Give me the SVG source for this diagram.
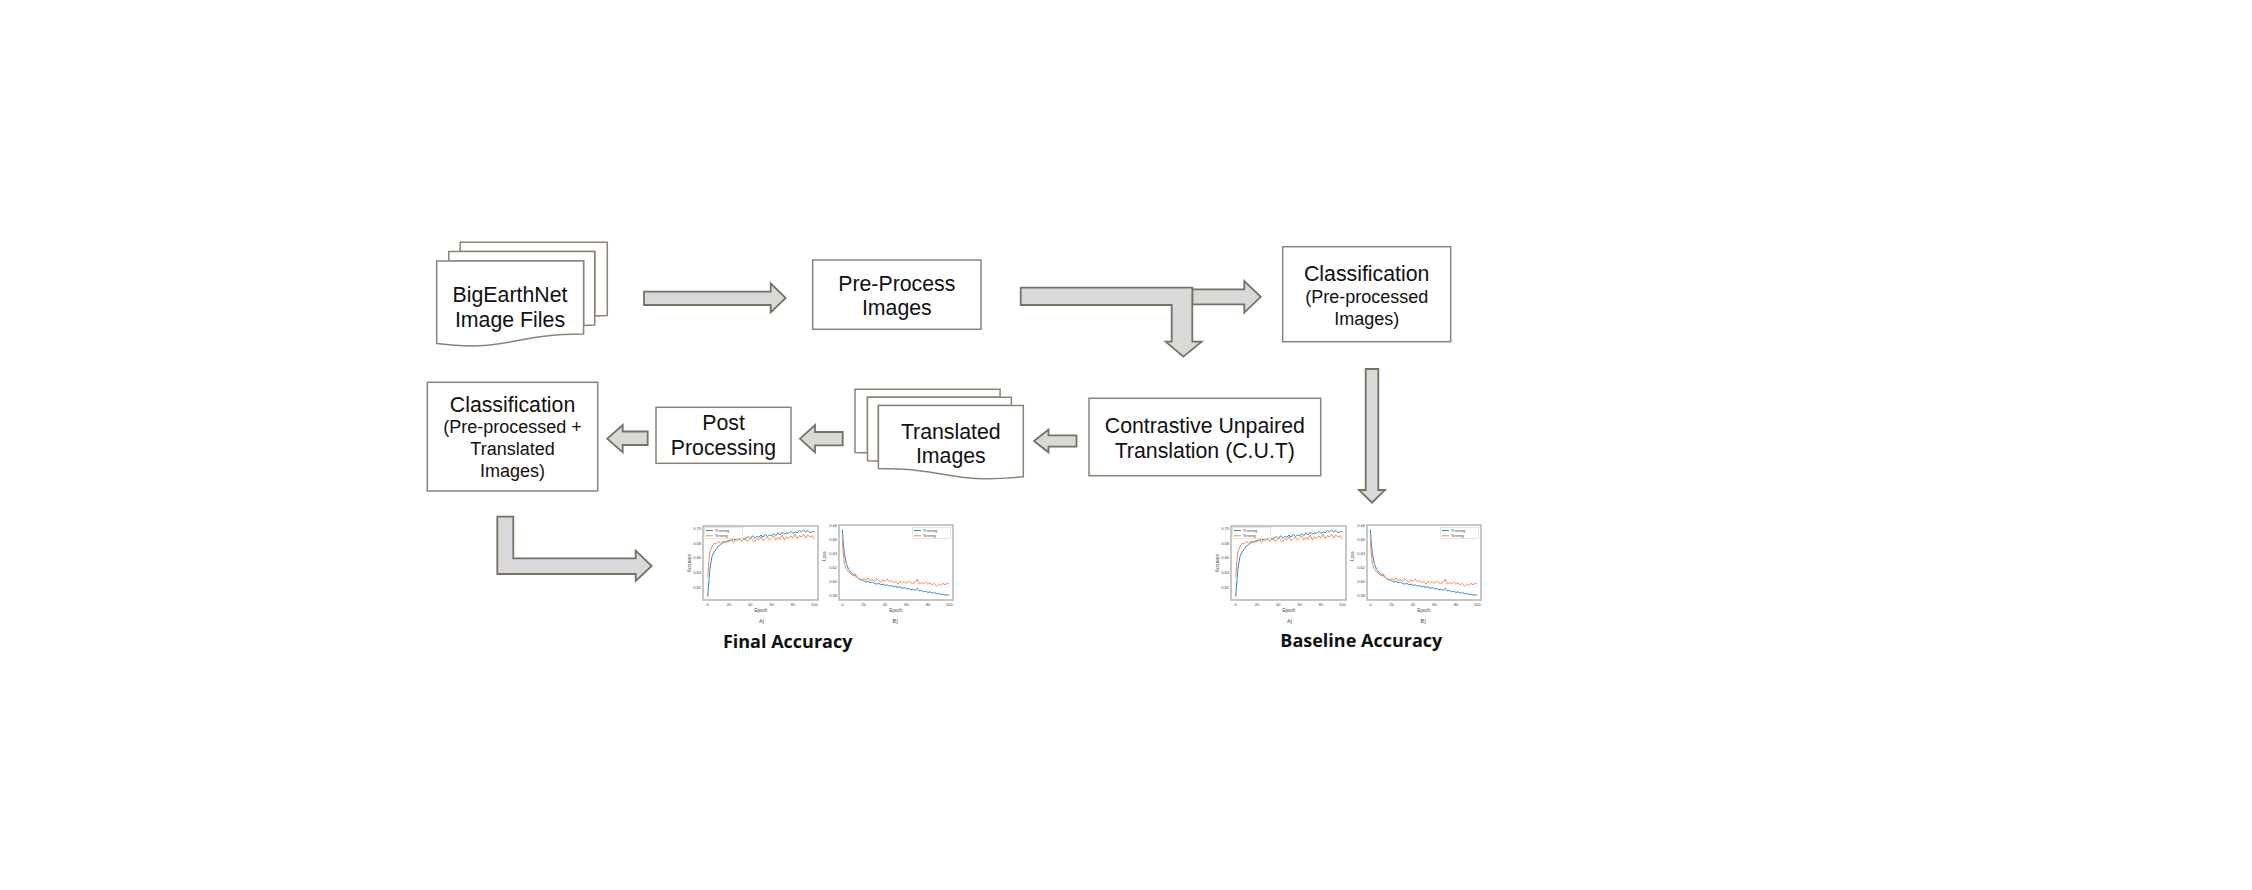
<svg xmlns="http://www.w3.org/2000/svg" xmlns:xlink="http://www.w3.org/1999/xlink" width="2252" height="890" viewBox="0 0 2252 890">
<style>
.box{fill:#fff;stroke:#8c8273;stroke-width:1.5}
.arrow{fill:#d9d9d9;stroke:#7a7061;stroke-width:1.8;stroke-linejoin:miter}
.t{font-family:"Liberation Sans",Arial,sans-serif;font-size:21.3px;fill:#111;text-anchor:middle}
.ts{font-size:18px}
.cap{font-family:"Open Sans","Liberation Sans",sans-serif;font-weight:700;font-size:18px;fill:#111;text-anchor:middle}
.tick{font-family:"Liberation Sans",Arial,sans-serif;font-size:4px;fill:#444}
.frame{fill:#fff;stroke:#aaa;stroke-width:1.3}
.tr{fill:none;stroke:#2b8cd0;stroke-width:1;vector-effect:non-scaling-stroke}
.te{fill:none;stroke:#ff8a45;stroke-width:1;vector-effect:non-scaling-stroke}
</style>
<defs>
<g id="charts">
 <g id="chartA">
  <rect class="frame" x="703" y="526" width="115" height="74"/>
  <g transform="translate(707.7,0) scale(1.066,1)">
   <polyline class="tr" points="0,596.6 2,569.1 4,556.5 6,552.1 8,549.1 10,546.1 12,544.6 14,543.2 16,541.7 18,542.4 20,540.2 22,540.9 24,538.7 26,540.2 28,538 30,539.4 32,537.2 34,539.4 36,538 38,536.5 40,538.7 42,535.7 44,538 46,536.5 48,537.2 50,535 52,537.2 54,534.2 56,536.5 58,535 60,535.7 62,533.5 64,535.7 66,532.8 68,535 70,532 72,534.2 74,532.8 76,533.5 78,531.3 80,533.5 82,532 84,532.8 86,530.5 88,532 90,529.8 92,532 94,530.5 96,532.8 98,531.3 100,532"/>
   <polyline class="te" points="0,577.3 1,561.7 2,552.1 4,546.9 6,543.2 8,543.9 10,541.7 12,543.2 14,540.9 16,542.4 18,540.2 20,541.7 22,539.4 24,542.4 26,539.4 28,540.9 30,538 32,541.7 34,538.7 36,540.2 38,540.9 40,538 42,540.2 44,541.7 46,538.7 48,540.2 50,536.5 52,540.9 54,538.7 56,537.2 58,540.2 60,538 62,535.7 64,540.2 66,537.2 68,539.4 70,535 72,540.2 74,536.5 76,538.7 78,535.7 80,538 82,534.2 84,538.7 86,535.7 88,537.2 90,534.2 92,538 94,535 96,537.2 98,535.7 100,539.4"/>
  </g>
  <g class="tick" text-anchor="end">
   <text x="701" y="529.7">0.70</text><text x="701" y="544.5">0.68</text><text x="701" y="559.4">0.66</text><text x="701" y="574.3">0.64</text><text x="701" y="589.1">0.62</text>
  </g>
  <g class="tick" text-anchor="middle">
   <text x="707.7" y="606">0</text><text x="729" y="606">20</text><text x="750.3" y="606">40</text><text x="771.7" y="606">60</text><text x="793" y="606">80</text><text x="814.3" y="606">100</text>
   <text x="761" y="611.5" font-size="4.5">Epoch</text>
   <text x="761.7" y="622.5" font-size="5.5">A)</text>
   <text transform="translate(691,563) rotate(-90)" font-size="4.5">Accuracy</text>
  </g>
  <rect x="704.5" y="527.5" width="38" height="11" fill="#fff" stroke="#ccc" stroke-width="0.5"/>
  <line x1="706" y1="530.5" x2="713" y2="530.5" stroke="#2b8cd0" stroke-width="1"/>
  <line x1="706" y1="535.8" x2="713" y2="535.8" stroke="#ff8a45" stroke-width="1"/>
  <text class="tick" x="715" y="532">Training</text>
  <text class="tick" x="715" y="537.3">Testing</text>
 </g>
 <g id="chartB">
  <rect class="frame" x="839" y="525" width="114" height="75"/>
  <g transform="translate(842.3,0) scale(1.07,1)">
   <polyline class="tr" points="0,529.5 1,543.5 2,554 4,564.5 6,569.4 8,572.2 10,574.3 12,575.7 14,577.1 16,579.2 18,579.9 20,580.6 22,582 24,581.3 26,582.7 28,582 30,583.4 32,584.1 34,583.4 36,584.8 38,584.1 40,585.5 42,584.8 44,586.2 46,585.5 48,586.9 50,586.2 52,587.6 54,586.9 56,588.3 58,587.6 60,589 62,588.3 64,589.7 66,589 68,590.4 70,588.3 72,591.1 74,590.4 76,591.8 78,591.1 80,592.5 82,591.8 84,593.2 86,592.5 88,593.9 90,593.2 92,594.6 94,593.9 96,595.3 98,594.6 100,595.3"/>
   <polyline class="te" points="0,538.6 1,554 2,564.5 4,569.4 6,572.2 8,573.6 10,575.7 12,573.6 14,577.8 16,578.5 18,579.9 20,578.5 22,579.9 24,577.8 26,580.6 28,579.2 30,581.3 32,578.5 34,580.6 36,582 38,579.9 40,581.3 42,579.2 44,582 46,580.6 48,582.7 50,581.3 52,584.1 54,581.3 56,582.7 58,582 60,583.4 62,581.3 64,582.7 66,583.4 68,582 70,579.2 72,584.1 74,582.7 76,583.4 78,582 80,584.1 82,582.7 84,584.8 86,583.4 88,586.2 90,584.1 92,585.5 94,583.4 96,584.8 98,583.4 100,584.1"/>
  </g>
  <g class="tick" text-anchor="end">
   <text x="837" y="527.4">0.68</text><text x="837" y="541.4">0.66</text><text x="837" y="555.4">0.64</text><text x="837" y="569.4">0.62</text><text x="837" y="583.4">0.60</text><text x="837" y="597.4">0.58</text>
  </g>
  <g class="tick" text-anchor="middle">
   <text x="842.3" y="606">0</text><text x="863.7" y="606">20</text><text x="885.1" y="606">40</text><text x="906.5" y="606">60</text><text x="927.9" y="606">80</text><text x="949.3" y="606">100</text>
   <text x="895.7" y="611.5" font-size="4.5">Epoch</text>
   <text x="895.3" y="622.5" font-size="5.5">B)</text>
   <text transform="translate(826,556) rotate(-90)" font-size="4.5">Loss</text>
  </g>
  <rect x="912.5" y="527.5" width="38" height="11" fill="#fff" stroke="#ccc" stroke-width="0.5"/>
  <line x1="914" y1="530.5" x2="921" y2="530.5" stroke="#2b8cd0" stroke-width="1"/>
  <line x1="914" y1="535.8" x2="921" y2="535.8" stroke="#ff8a45" stroke-width="1"/>
  <text class="tick" x="923" y="532">Training</text>
  <text class="tick" x="923" y="537.3">Testing</text>
 </g>
</g>
</defs>

<rect width="2252" height="890" fill="#fff"/>

<g id="connectors">
 <polygon class="arrow" points="644,291.7 770.7,291.7 770.7,283.3 785.7,298 770.7,312.3 770.7,305 644,305"/>
 <polygon class="arrow" points="1192.3,289.3 1244.3,289.3 1244.3,281 1260.7,296.8 1244.3,312.7 1244.3,304.3 1192.3,304.3"/>
 <polygon class="arrow" points="1020.7,287.7 1192.3,287.7 1192.3,341.7 1201.7,341.7 1183.3,356.7 1165.7,341.7 1171.7,341.7 1171.7,305 1020.7,305"/>
 <polygon class="arrow" points="1365.7,369 1378.3,369 1378.3,490 1385,490 1372,502.7 1359,490 1365.7,490"/>
 <polygon class="arrow" points="1076.5,435.3 1048.5,435.3 1048.5,429.5 1034,441 1048.5,452.3 1048.5,446.7 1076.5,446.7"/>
 <polygon class="arrow" points="842.7,432 815,432 815,425 800,438.7 815,452.3 815,445.3 842.7,445.3"/>
 <polygon class="arrow" points="647.7,431.5 622.7,431.5 622.7,425 607.3,438.7 622.7,452.3 622.7,445 647.7,445"/>
 <polygon class="arrow" points="497.3,516.7 513.3,516.7 513.3,558.3 635.7,558.3 635.7,550.7 651.7,566 635.7,581 635.7,574 497.3,574"/>
</g>

<g id="node-bigearthnet">
 <path class="box" d="M460.2,251.5 V242.3 H607.3 V315.6 C600.9,315.6 594.7,316 594.7,316 V251.5 Z"/>
 <path class="box" d="M448.8,261 V251.5 H594.7 V325.1 C589.2,325.1 583.6,325.6 583.6,325.6 V261 Z"/>
 <path class="box" d="M436.7,261 H583.6 V334.1 C510.1,334.1 510.1,352.3 436.7,343.6 Z"/>
 <text class="t" x="510" y="301.7">BigEarthNet</text>
 <text class="t" x="510" y="326.7">Image Files</text>
</g>

<g id="node-preprocess">
 <rect class="box" x="812.7" y="260" width="168.3" height="69.3"/>
 <text class="t" x="896.8" y="290.5">Pre-Process</text>
 <text class="t" x="896.8" y="315.4">Images</text>
</g>

<g id="node-classification-pre">
 <rect class="box" x="1282.7" y="246.7" width="168" height="95"/>
 <text class="t" x="1366.7" y="281">Classification</text>
 <text class="t ts" x="1366.7" y="303.3">(Pre-processed</text>
 <text class="t ts" x="1366.7" y="325">Images)</text>
</g>

<g id="node-cut">
 <rect class="box" x="1089" y="398.3" width="231.7" height="77.4"/>
 <text class="t" x="1204.8" y="432.5">Contrastive Unpaired</text>
 <text class="t" x="1204.8" y="457.5">Translation (C.U.T)</text>
</g>

<g id="node-translated">
 <path class="box" d="M1000.1,397.3 V389.3 H855 V452.6 C858.5,452.6 867.5,452.9 867.5,452.9 V397.3 Z"/>
 <path class="box" d="M1011.4,405.5 V397.3 H867.5 V460.8 C870.5,460.8 878.4,461.2 878.4,461.2 V405.5 Z"/>
 <path class="box" d="M1023.3,405.5 H878.4 V468.6 C950.8,468.6 950.8,484.3 1023.3,476.8 Z"/>
 <text class="t" x="950.8" y="439">Translated</text>
 <text class="t" x="950.8" y="463">Images</text>
</g>

<g id="node-postprocessing">
 <rect class="box" x="656" y="407.3" width="135" height="56"/>
 <text class="t" x="723.5" y="430">Post</text>
 <text class="t" x="723.5" y="455">Processing</text>
</g>

<g id="node-classification-final">
 <rect class="box" x="427.3" y="382.3" width="170.4" height="108.7"/>
 <text class="t" x="512.5" y="411.7">Classification</text>
 <text class="t ts" x="512.5" y="432.7">(Pre-processed +</text>
 <text class="t ts" x="512.5" y="455">Translated</text>
 <text class="t ts" x="512.5" y="476.7">Images)</text>
</g>

<g id="node-final-accuracy">
 <use xlink:href="#charts" href="#charts"/>
 <text class="cap" x="787.7" y="648.3">Final Accuracy</text>
</g>

<g id="node-baseline-accuracy">
 <use xlink:href="#charts" href="#charts" x="528" y="0"/>
 <text class="cap" x="1361.3" y="647.3">Baseline Accuracy</text>
</g>
</svg>
